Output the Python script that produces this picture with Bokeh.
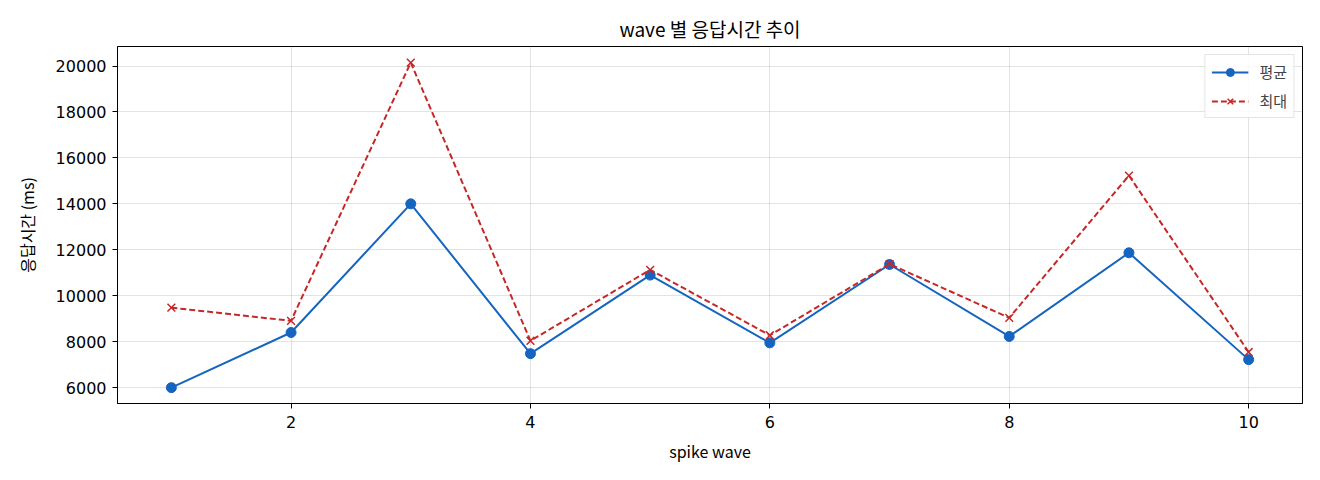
from bokeh.plotting import figure
from bokeh.models import Range1d, FixedTicker, Legend
from bokeh.embed import file_html
from bokeh.resources import INLINE

waves = [1, 2, 3, 4, 5, 6, 7, 8, 9, 10]
avg_ms = [6000, 8400, 14000, 7480, 10900, 7950, 11360, 8230, 11870, 7220]
max_ms = [9480, 8910, 20150, 8040, 11130, 8280, 11380, 9040, 15230, 7550]
x_ticks = [2, 4, 6, 8, 10]
y_ticks = [6000, 8000, 10000, 12000, 14000, 16000, 18000, 20000]

FONT = "Noto Sans CJK KR"
NUM_FONT = "DejaVu Sans"
BLUE = "#1565C0"
RED = "#C62828"

p = figure(
    frame_width=1185, frame_height=357,
    min_border_left=117, min_border_top=46, min_border_right=10, min_border_bottom=60,
    x_range=Range1d(0.55, 10.45), y_range=Range1d(5310, 20850),
    output_backend="svg", toolbar_location=None, tools="",
    title="wave 별 응답시간 추이",
)

# 평균 (solid + circles)
l1 = p.line(waves, avg_ms, line_color=BLUE, line_width=2)
s1 = p.scatter(waves, avg_ms, marker="circle", size=10, fill_color=BLUE, line_color=BLUE)

# 최대 (dashed + x markers)
l2 = p.line(waves, max_ms, line_color=RED, line_width=2, line_dash="6 3")
s2 = p.scatter(waves, max_ms, marker="x", size=11, line_color=RED, line_width=1.5)

legend = Legend(items=[("평균", [l1, s1]), ("최대", [l2, s2])], location="top_right")
legend.label_text_font = FONT
legend.label_text_font_size = "15px"
legend.border_line_color = "#cccccc"
legend.border_line_width = 1
legend.background_fill_alpha = 0.85
legend.glyph_width = 37
legend.glyph_height = 20
legend.label_height = 20
legend.label_standoff = 11
legend.spacing = 8
legend.padding = 6
legend.margin = 8
p.add_layout(legend)

p.title.text_font = FONT
p.title.text_font_size = "19px"
p.title.text_font_style = "normal"
p.title.align = "center"
p.title.text_color = "#000000"

p.xaxis.ticker = FixedTicker(ticks=x_ticks)
p.yaxis.ticker = FixedTicker(ticks=y_ticks)
p.xaxis.axis_label = "spike wave"
p.yaxis.axis_label = "응답시간 (ms)"

for ax in (p.xaxis, p.yaxis):
    ax.axis_label_text_font = FONT
    ax.axis_label_text_font_size = "16px"
    ax.axis_label_text_font_style = "normal"
    ax.axis_label_text_color = "#000000"
    ax.major_label_text_font = NUM_FONT
    ax.major_label_text_font_size = "16px"
    ax.major_label_text_color = "#000000"
    ax.axis_line_color = "black"
    ax.major_tick_in = 0
    ax.major_tick_out = 5
    ax.major_tick_line_color = "black"
    ax.minor_tick_line_color = None

p.xaxis.major_label_standoff = 7
p.yaxis.major_label_standoff = 6
p.xaxis.axis_label_standoff = 8
p.yaxis.axis_label_standoff = 14

p.grid.grid_line_color = "#b0b0b0"
p.grid.grid_line_alpha = 0.35
p.outline_line_color = "black"
p.outline_line_alpha = 1
p.outline_line_width = 1
p.background_fill_color = "white"
p.border_fill_color = "white"

open("out.html", "w").write(file_html(p, INLINE))
